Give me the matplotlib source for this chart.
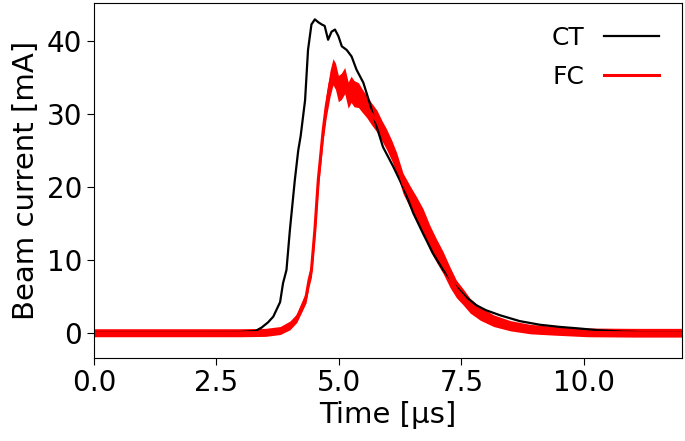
"""Beam current pulse: current transformer (CT) vs Faraday cup (FC)."""

import matplotlib

matplotlib.use("Agg")
import matplotlib.pyplot as plt
import numpy as np

# ---------------------------------------------------------------------------
# Data
# ---------------------------------------------------------------------------

ct_time = [0.0, 1.0, 2.0, 3.0, 3.3, 3.42, 3.55, 3.66, 3.80, 3.86, 3.93, 4.00,
           4.10, 4.17, 4.22, 4.31, 4.37, 4.44, 4.51, 4.58, 4.65, 4.71, 4.78,
           4.85, 4.92, 4.99, 5.06, 5.16, 5.26, 5.36, 5.50, 5.63, 5.77, 5.90,
           6.11, 6.31, 6.52, 6.72, 6.92, 7.13, 7.40, 7.60, 7.80, 8.00, 8.29,
           8.69, 9.10, 9.51, 9.88, 10.29, 10.80, 11.40, 12.00]
ct_current = [0.05, 0.05, 0.05, 0.1, 0.25, 0.7, 1.4, 2.2, 4.2, 6.8, 8.6, 14.1,
              20.9, 25.0, 27.0, 31.9, 38.8, 42.3, 43.0, 42.6, 42.3, 42.1, 40.2,
              41.3, 41.6, 40.7, 39.3, 38.8, 37.9, 36.1, 34.3, 31.5, 28.3, 25.5,
              22.8, 20.0, 16.4, 13.6, 10.9, 8.6, 6.3, 4.9, 3.8, 3.1, 2.4,
              1.6, 1.1, 0.8, 0.6, 0.35, 0.15, 0.05, 0.05]

fc_time = [0.0, 1.0, 2.0, 3.0, 3.5, 3.80, 4.00, 4.14, 4.24, 4.33, 4.39, 4.44,
           4.51, 4.58, 4.68, 4.74, 4.82, 4.88, 4.93, 4.99, 5.05, 5.12, 5.19,
           5.25, 5.31, 5.40, 5.47, 5.57, 5.67, 5.78, 5.88, 5.97, 6.08, 6.18,
           6.31, 6.45, 6.59, 6.72, 6.86, 6.99, 7.13, 7.27, 7.40, 7.54, 7.68,
           7.89, 8.16, 8.50, 8.91, 9.39, 10.08, 11.00, 12.00]
fc_current = [0.0, 0.0, 0.0, 0.0, 0.05, 0.3, 1.0, 2.0, 3.5, 4.9, 7.2, 8.6,
              14.1, 21.0, 27.8, 31.0, 34.2, 35.8, 35.2, 33.5, 33.8, 34.6, 32.6,
              33.4, 32.8, 32.6, 31.9, 31.0, 30.0, 29.0, 27.7, 26.6, 25.0, 23.3,
              20.5, 18.7, 17.0, 15.3, 13.0, 11.3, 9.6, 7.6, 6.0, 4.9, 3.7,
              2.6, 1.65, 0.96, 0.5, 0.27, 0.05, 0.0, 0.0]
# half height of the noise band around the FC trace
fc_noise = [0.55, 0.55, 0.55, 0.55, 0.55, 0.55, 0.6, 0.6, 0.7, 0.8, 0.9, 1.0,
            1.1, 1.2, 1.4, 1.6, 1.8, 1.8, 1.8, 1.8, 1.8, 1.8, 1.8,
            1.8, 1.8, 1.7, 1.6, 1.5, 1.5, 1.5, 1.4, 1.4, 1.4, 1.4,
            1.4, 1.5, 1.6, 1.7, 1.7, 1.6, 1.5, 1.4, 1.2, 1.1, 1.0,
            0.9, 0.8, 0.7, 0.65, 0.6, 0.6, 0.6, 0.6]

labels = ["CT", "FC"]
x_ticks = [0.0, 2.5, 5.0, 7.5, 10.0]
y_ticks = [0, 10, 20, 30, 40]

# ---------------------------------------------------------------------------
# Plot
# ---------------------------------------------------------------------------

fig = plt.figure(figsize=(6.85, 4.41), dpi=100)
ax = fig.add_axes([0.1372, 0.1893, 0.858, 0.8032])

fc = np.asarray(fc_current)
noise = np.asarray(fc_noise)

ax.plot(ct_time, ct_current, color="black", lw=1.6, label=labels[0])
ax.fill_between(fc_time, fc - noise, fc + noise, color="red", lw=0)
ax.plot(fc_time, fc_current, color="red", lw=2.2, label=labels[1])

ax.set_xlim(0, 12)
ax.set_ylim(-3.4, 45.2)
ax.set_xticks(x_ticks)
ax.set_yticks(y_ticks)
ax.tick_params(labelsize=20, length=5)
ax.set_xlabel("Time [µs]", fontsize=21, labelpad=3)
ax.set_ylabel("Beam current [mA]", fontsize=21, labelpad=5)

ax.legend(loc="upper right", frameon=False, markerfirst=False, fontsize=18,
          handlelength=2.2, borderaxespad=0.5, labelspacing=0.6)

fig.savefig("out.png", dpi=100)
